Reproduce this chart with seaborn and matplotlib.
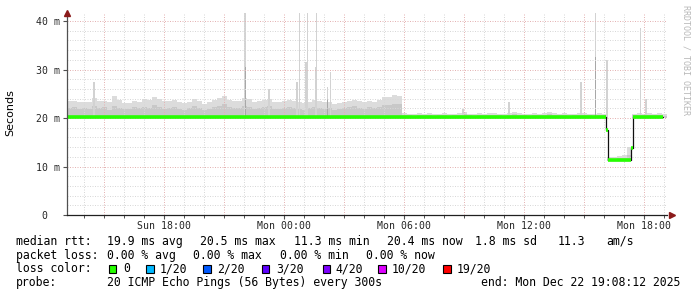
import numpy as np
import matplotlib
matplotlib.use("Agg")
import matplotlib.pyplot as plt
import seaborn as sns
from matplotlib.patches import Rectangle

# ---------------- data (ms, hours since Sun 00:00) ----------------
t_start = 13.14          # Sun 13:08
bin_h = 0.25             # 15 min smoke bins

smoke_top = [
    23.6, 23.6, 23.4, 23.4, 23.2, 24.1, 23.5, 23.5, 23.3, 24.5,
    23.8, 23.1, 23.0, 23.6, 23.4, 23.9, 23.7, 24.3, 24.0, 23.5,
    23.6, 23.8, 23.3, 23.0, 23.4, 23.9, 23.6, 22.9, 23.2, 23.7,
    24.2, 24.5, 23.8, 23.6, 23.5, 24.1, 23.9, 23.4, 23.5, 23.7,
    23.9, 23.4, 23.3, 23.6, 23.8, 23.5, 23.2, 23.0, 23.4, 23.7,
    23.5, 23.3, 23.4, 22.9, 23.1, 23.4, 23.6, 23.8, 23.5, 23.3,
    23.6, 23.4, 23.7, 24.3, 24.4, 24.7, 24.5,
    21.0, 20.9, 20.8, 21.0, 20.9, 21.1, 20.8, 20.9, 21.0, 20.8,
    20.9, 21.0, 21.2, 20.9, 20.8, 21.0, 20.9, 21.1, 21.0, 20.9,
    20.8, 21.0, 21.3, 21.1, 20.9, 20.8, 21.0, 20.9, 21.0, 21.3,
    21.1, 20.9, 21.0, 20.8, 20.9, 21.0, 21.1, 20.9, 20.8, 21.0,
    20.9,
    12.0, 11.9, 12.1, 12.4, 14.0,
    20.9, 21.0, 20.9, 21.1, 20.9, 21.0, 20.8,
]
smoke_mid = [
    22.0, 22.3, 21.8, 22.1, 21.9, 22.4, 22.0, 22.2, 21.7, 22.5,
    22.1, 21.8, 21.9, 22.3, 22.0, 22.2, 22.1, 22.6, 22.3, 21.9,
    22.0, 22.2, 21.8, 21.7, 22.0, 22.4, 22.1, 21.6, 21.9, 22.2,
    22.5, 22.8, 22.3, 22.1, 22.0, 22.4, 22.3, 21.9, 22.0, 22.2,
    22.4, 21.9, 21.8, 22.1, 22.3, 22.0, 21.8, 21.7, 22.0, 22.2,
    22.1, 21.9, 22.0, 21.6, 21.8, 22.0, 22.2, 22.4, 22.1, 21.9,
    22.2, 22.0, 22.3, 22.6, 22.7, 22.9, 22.8,
    20.6, 20.6, 20.5, 20.7, 20.6, 20.7, 20.5, 20.6, 20.6, 20.5,
    20.6, 20.7, 20.8, 20.6, 20.5, 20.6, 20.6, 20.7, 20.6, 20.6,
    20.5, 20.6, 20.9, 20.7, 20.6, 20.5, 20.6, 20.6, 20.6, 20.8,
    20.7, 20.6, 20.6, 20.5, 20.6, 20.6, 20.7, 20.6, 20.5, 20.6,
    20.6,
    11.6, 11.6, 11.7, 11.8, 12.4,
    20.6, 20.6, 20.6, 20.7, 20.6, 20.6, 20.5,
]
smoke_floor = [
    19.9, 19.9, 19.9, 19.9, 19.9, 19.9, 19.9, 19.9, 19.9, 19.9,
    19.9, 19.9, 19.9, 19.9, 19.9, 19.9, 19.9, 19.9, 19.9, 19.9,
    19.9, 19.9, 19.9, 19.9, 19.9, 19.9, 19.9, 19.9, 19.9, 19.9,
    19.9, 19.9, 19.9, 19.9, 19.9, 19.9, 19.9, 19.9, 19.9, 19.9,
    19.9, 19.9, 19.9, 19.9, 19.9, 19.9, 19.9, 19.9, 19.9, 19.9,
    19.9, 19.9, 19.9, 19.9, 19.9, 19.9, 19.9, 19.9, 19.9, 19.9,
    19.9, 19.9, 19.9, 19.9, 19.9, 19.9, 19.9,
    19.9, 19.9, 19.9, 19.9, 19.9, 19.9, 19.9, 19.9, 19.9, 19.9,
    19.9, 19.9, 19.9, 19.9, 19.9, 19.9, 19.9, 19.9, 19.9, 19.9,
    19.9, 19.9, 19.9, 19.9, 19.9, 19.9, 19.9, 19.9, 19.9, 19.9,
    19.9, 19.9, 19.9, 19.9, 19.9, 19.9, 19.9, 19.9, 19.9, 19.9,
    19.9,
    11.1, 11.1, 11.1, 11.1, 11.1,
    19.9, 19.9, 19.9, 19.9, 19.9, 19.9, 19.9,
]

# median rtt as a step function: value holds from med_t[i] to med_t[i+1]
med_t = [13.14, 40.09, 40.20, 41.35, 41.45, 42.94]
med_v = [20.3, 17.5, 11.3, 13.9, 20.3]

# isolated smoke spikes
spike_t = [14.49, 22.04, 23.24, 24.64, 24.755, 25.09, 25.175, 25.575, 25.625,
           26.175, 26.325, 32.94, 35.24, 38.84, 39.575, 40.14, 41.825, 42.09]
spike_top = [27.4, 41.6, 26.0, 27.4, 41.6, 31.5, 41.6, 30.5, 41.6,
             26.4, 29.5, 21.9, 23.3, 27.4, 41.6, 32.0, 38.5, 23.9]
spike_dark_t = [22.04, 26.175, 39.55]
spike_dark_top = [30.5, 24.0, 32.5]

x_tick_hours = [18, 24, 30, 36, 42]
x_tick_labels = ["Sun 18:00", "Mon 00:00", "Mon 06:00", "Mon 12:00", "Mon 18:00"]
y_ticks = [0, 10, 20, 30, 40]
y_tick_labels = ["0  ", "10 m", "20 m", "30 m", "40 m"]

loss_labels = ["0", "1/20", "2/20", "3/20", "4/20", "10/20", "19/20"]
loss_colors = ["#26ff00", "#00b8ff", "#0059ff", "#5e00ff", "#7e00ff", "#dd00ff", "#ff0000"]

# ---------------- figure ----------------
sns.set_theme(style="white")
plt.rcParams["font.family"] = ["DejaVu Sans Mono"]

W, H = 697, 297
fig = plt.figure(figsize=(W / 100, H / 100), dpi=100)
fig.patch.set_facecolor("white")


def fx(x):
    return x / W


def fy(y):
    return 1 - y / H


ax_left, ax_right, ax_bot, ax_top = 67, 667, 215, 13
ax = fig.add_axes([fx(ax_left), fy(ax_bot), (ax_right - ax_left) / W, (ax_bot - ax_top) / H])
ax.set_facecolor("white")
ax.set_xlim(13.14, 43.14)
ax.set_ylim(0, 41.65)

# smoke
edges = t_start + bin_h * np.arange(len(smoke_top) + 1)
top_e = np.append(smoke_top, smoke_top[-1])
mid_e = np.append(smoke_mid, smoke_mid[-1])
flo_e = np.append(smoke_floor, smoke_floor[-1])
ax.fill_between(edges, flo_e, top_e, step="post", color="#dcdcdc", lw=0, zorder=1)
ax.fill_between(edges, flo_e, mid_e, step="post", color="#c8c8c8", lw=0, zorder=1.1)

# spikes
ax.bar(spike_t, np.array(spike_top) - 20.0, bottom=20.0, width=0.07,
       color="#d2d2d2", lw=0, zorder=1.2, align="center")
ax.bar(spike_dark_t, np.array(spike_dark_top) - 20.0, bottom=20.0, width=0.05,
       color="#a8a8a8", lw=0, zorder=1.3, align="center")

# grid (RRDtool style dotted, drawn over smoke)
for h in range(14, 44):
    major = (h % 3 == 0)
    ax.axvline(h, color="#e4b4b4" if major else "#d8d8d8", lw=0.72,
               dashes=(1, 1.5), zorder=2)
for v in range(2, 42, 2):
    major = (v % 10 == 0)
    ax.axhline(v, color="#e4b4b4" if major else "#d8d8d8", lw=0.72,
               dashes=(1, 1.5), zorder=2)

# median line: thin black steps + green horizontal segments
step_x = med_t
step_y = med_v + [med_v[-1]]
sns.lineplot(x=step_x, y=step_y, ax=ax, color="#101010", lw=0.9,
             drawstyle="steps-post", zorder=3, estimator=None, sort=False)
ax.hlines(med_v, med_t[:-1], med_t[1:], color="#26ff00", lw=2.6, zorder=4,
          capstyle="butt")

# axes styling
for s in ["top", "right"]:
    ax.spines[s].set_visible(False)
ax.spines["left"].set_color("#505050")
ax.spines["bottom"].set_color("#202020")
ax.spines["left"].set_linewidth(0.9)
ax.spines["bottom"].set_linewidth(0.9)
ax.spines["left"].set_zorder(5)
ax.spines["bottom"].set_zorder(5)

ax.set_yticks(y_ticks)
ax.set_yticklabels(y_tick_labels, fontsize=7.1, family="DejaVu Sans Mono")
ax.set_xticks(x_tick_hours)
ax.set_xticklabels(x_tick_labels, fontsize=7.1, family="DejaVu Sans Mono")
ax.set_xticks(list(range(14, 44)), minor=True)
ax.tick_params(axis="y", which="major", left=True, length=3, width=0.8,
               color="#505050", pad=2.2)
ax.tick_params(axis="x", which="major", bottom=True, length=3, width=0.8,
               color="#505050", pad=1.2, direction="out")
ax.tick_params(axis="x", which="minor", bottom=True, length=2, width=0.7,
               color="#505050", direction="out")
ax.grid(False)

# arrows
ax.plot([0], [1.0], marker="^", ms=4.5, color="#8b1a1a", transform=ax.transAxes,
        clip_on=False, zorder=6)
ax.plot([1.008], [0], marker=">", ms=4.5, color="#8b1a1a", transform=ax.transAxes,
        clip_on=False, zorder=6)

# y axis title
fig.text(fx(10.5), fy(113), "Seconds", rotation=90, ha="center", va="center",
         fontsize=8, family="DejaVu Sans", color="black")

# watermark
fig.text(fx(686), fy(5), "RRDTOOL / TOBI OETIKER", rotation=270, ha="center",
         va="top", fontsize=6, family="DejaVu Sans Mono", color="#b8b8b8")

# legend text
fs = 8.3
row_base = [245, 258.6, 272.3, 286]


def t(x, y, s):
    fig.text(fx(x), fy(y), s, ha="left", va="baseline", fontsize=fs,
             family="DejaVu Sans Mono", color="black")


t(16, row_base[0], "median rtt:")
for x, s in [(107.3, "19.9 ms avg"), (200, "20.5 ms max"), (294, "11.3 ms min"),
             (386.7, "20.4 ms now"), (475, "1.8 ms sd"), (558, "11.3"), (606.5, "am/s")]:
    t(x, row_base[0], s)

t(16, row_base[1], "packet loss:")
for x, s in [(107.3, "0.00 % avg"), (193.3, "0.00 % max"), (280, "0.00 % min"),
             (366, "0.00 % now")]:
    t(x, row_base[1], s)

t(16, row_base[2], "loss color:")
box_x = [108.7, 146, 203.3, 261.7, 322.7, 378.3, 443.3]
lab_x = [123.3, 160, 217.3, 276, 335, 391.7, 456.7]
for bx, lx, lab, col in zip(box_x, lab_x, loss_labels, loss_colors):
    fig.patches.append(Rectangle((fx(bx), fy(272.8)), 7.5 / W, 7.5 / H,
                                 transform=fig.transFigure, facecolor=col,
                                 edgecolor="black", lw=0.8))
    t(lx, row_base[2], lab)

t(16, row_base[3], "probe:")
t(107.3, row_base[3], "20 ICMP Echo Pings (56 Bytes) every 300s")
fig.text(fx(680), fy(row_base[3]), "end: Mon Dec 22 19:08:12 2025", ha="right",
         va="baseline", fontsize=fs, family="DejaVu Sans Mono", color="black")

fig.savefig("out.png", dpi=100, facecolor="white")
